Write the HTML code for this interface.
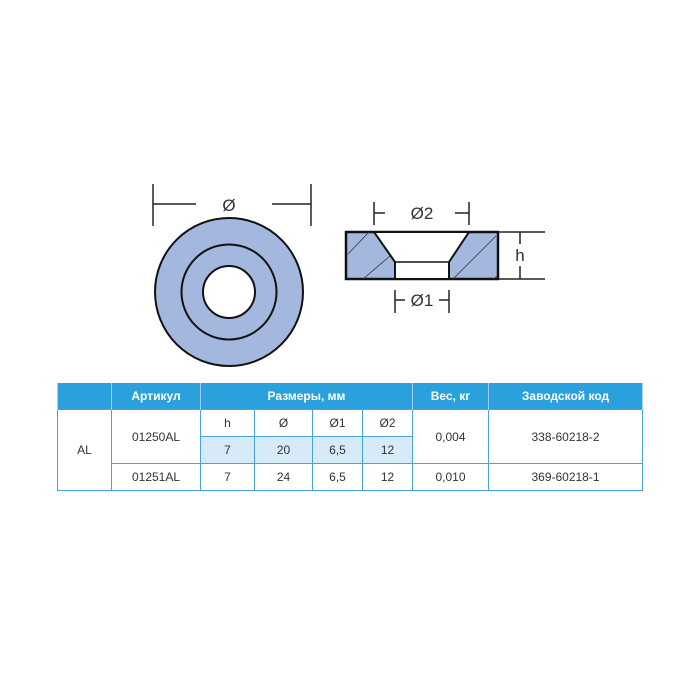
<!DOCTYPE html>
<html><head><meta charset="utf-8"><style>
body{margin:0;background:#fff;font-family:"Liberation Sans",sans-serif;}
.wrap{position:relative;width:700px;height:700px;overflow:hidden}
table{position:absolute;left:57px;top:383px;border-collapse:collapse;font-size:12px;color:#333}
td{border:1px solid #4aa3d8;text-align:center;padding:0;height:26px}
th{background:#2aa0dc;color:#fff;font-weight:bold;font-size:12px;height:26px;border-left:1px solid #9fd3f0;border-right:1px solid #9fd3f0;padding:0}
.b{background:#d6eaf8}
</style></head><body><div class="wrap">
<svg width="700" height="380" style="position:absolute;left:0;top:0" font-family="Liberation Sans,sans-serif">
<g stroke="#222" stroke-width="1.5" fill="none">
<line x1="153" y1="184" x2="153" y2="226"/><line x1="311" y1="184" x2="311" y2="226"/>
<line x1="153" y1="204" x2="196" y2="204"/><line x1="272" y1="204" x2="311" y2="204"/>
</g>
<text x="229" y="211" font-size="17" text-anchor="middle" fill="#333">Ø</text>
<circle cx="229" cy="292" r="74" fill="#a4b7de" stroke="#111" stroke-width="2"/>
<circle cx="229" cy="292" r="47.5" fill="none" stroke="#111" stroke-width="2"/>
<circle cx="229" cy="292" r="26" fill="#fff" stroke="#111" stroke-width="2"/>
<rect x="346" y="232" width="152" height="47" fill="#a4b7de" stroke="#111" stroke-width="2.5"/>
<polygon points="374,232 469,232 449,262 449,279 395,279 395,262" fill="#fff" stroke="#111" stroke-width="2"/>
<line x1="395" y1="262" x2="449" y2="262" stroke="#111" stroke-width="1.5"/>
<g stroke="#333" stroke-width="0.8">
<line x1="348" y1="254" x2="369" y2="232"/><line x1="363" y1="279" x2="390" y2="256"/>
<line x1="453" y1="279" x2="496" y2="236"/><line x1="494" y1="279" x2="497" y2="276"/>
</g>
<g stroke="#222" stroke-width="1.5">
<line x1="374" y1="202" x2="374" y2="225"/><line x1="469" y1="202" x2="469" y2="225"/>
<line x1="374" y1="213" x2="385" y2="213"/><line x1="455" y1="213" x2="469" y2="213"/>
<line x1="498" y1="232" x2="545" y2="232"/><line x1="498" y1="279" x2="545" y2="279"/>
<line x1="520" y1="232" x2="520" y2="244"/><line x1="520" y1="266" x2="520" y2="279"/>
<line x1="395" y1="290" x2="395" y2="313"/><line x1="449" y1="290" x2="449" y2="313"/>
<line x1="395" y1="300" x2="405" y2="300"/><line x1="439" y1="300" x2="449" y2="300"/>
</g>
<text x="422" y="219" font-size="17" text-anchor="middle" fill="#333">Ø2</text>
<text x="520" y="261" font-size="17" text-anchor="middle" fill="#333">h</text>
<text x="422" y="306" font-size="17" text-anchor="middle" fill="#333">Ø1</text>
</svg>
<table>
<tr><th style="width:53px"></th><th style="width:88px">Артикул</th><th colspan="4">Размеры, мм</th><th style="width:75px">Вес, кг</th><th style="width:153px">Заводской код</th></tr>
<tr><td rowspan="3">AL</td><td rowspan="2">01250AL</td><td style="width:53px">h</td><td style="width:57px">Ø</td><td style="width:49px">Ø1</td><td style="width:49px">Ø2</td><td rowspan="2">0,004</td><td rowspan="2">338-60218-2</td></tr>
<tr><td class="b">7</td><td class="b">20</td><td class="b">6,5</td><td class="b">12</td></tr>
<tr><td>01251AL</td><td>7</td><td>24</td><td>6,5</td><td>12</td><td>0,010</td><td>369-60218-1</td></tr>
</table>
</div></body></html>
